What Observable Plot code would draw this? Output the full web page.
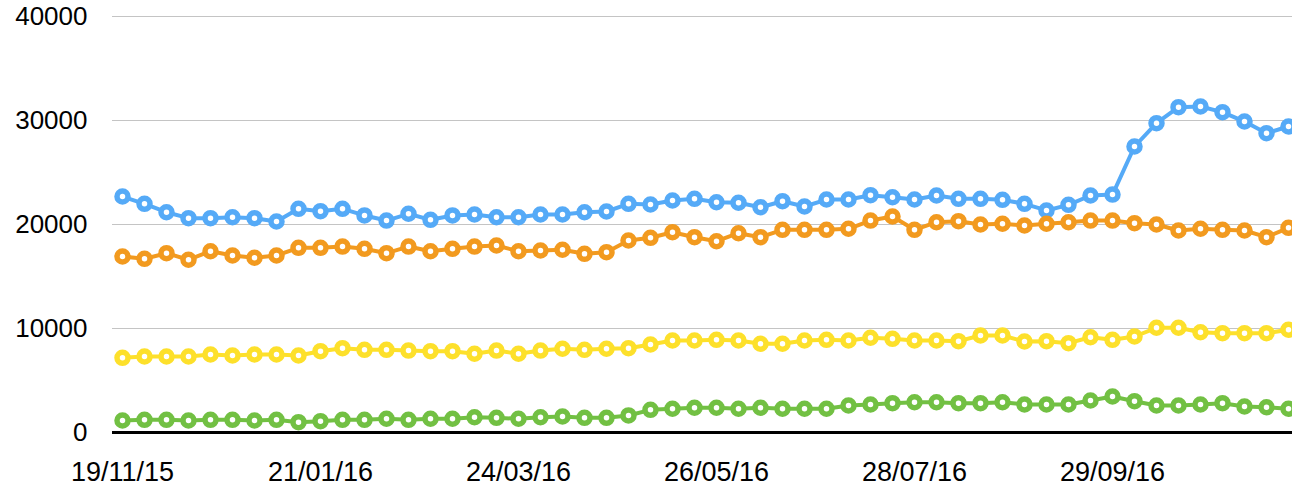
<!DOCTYPE html>
<html>
<head>
<meta charset="utf-8">
<script src="https://cdn.jsdelivr.net/npm/d3@7"></script>
<script src="https://cdn.jsdelivr.net/npm/@observablehq/plot@0.6"></script>
<style>
  html, body { margin: 0; padding: 0; background: #fff; }
</style>
</head>
<body>
<div id="chart"></div>
<script>
const startDate = "2015-11-19";
const tickLabels = ["19/11/15", "21/01/16", "24/03/16", "26/05/16", "28/07/16", "29/09/16"];
const yTicks = [0, 10000, 20000, 30000, 40000];

const blue = [22690, 21990, 21180, 20610, 20610, 20700, 20610, 20290, 21510, 21280, 21510, 20870, 20380, 21030, 20450, 20870, 20960, 20700, 20700, 20960, 20960, 21180, 21250, 21990, 21920, 22310, 22470, 22140, 22090, 21660, 22240, 21730, 22400, 22400, 22820, 22620, 22400, 22790, 22470, 22470, 22370, 21990, 21350, 21890, 22790, 22880, 27500, 29740, 31280, 31350, 30800, 29900, 28780, 29420];
const orange = [16920, 16700, 17240, 16610, 17430, 17020, 16800, 17020, 17760, 17760, 17880, 17660, 17240, 17880, 17430, 17660, 17880, 17980, 17430, 17500, 17570, 17180, 17340, 18460, 18720, 19260, 18780, 18390, 19160, 18780, 19490, 19490, 19490, 19590, 20380, 20770, 19490, 20220, 20320, 20000, 20070, 19900, 20070, 20220, 20380, 20380, 20130, 20000, 19420, 19590, 19490, 19420, 18780, 19680];
const yellow = [7180, 7310, 7310, 7310, 7500, 7400, 7500, 7500, 7400, 7820, 8110, 7950, 7950, 7880, 7820, 7820, 7570, 7880, 7570, 7880, 8050, 7950, 8050, 8110, 8460, 8850, 8850, 8910, 8850, 8530, 8530, 8850, 8910, 8850, 9110, 9010, 8850, 8850, 8780, 9330, 9330, 8750, 8780, 8590, 9160, 8910, 9230, 10070, 10070, 9640, 9550, 9550, 9550, 9880];
const green = [1150, 1220, 1220, 1150, 1220, 1220, 1150, 1220, 990, 1090, 1220, 1220, 1320, 1220, 1320, 1320, 1470, 1410, 1320, 1470, 1540, 1410, 1410, 1640, 2180, 2280, 2380, 2380, 2280, 2380, 2280, 2280, 2280, 2600, 2690, 2820, 2910, 2910, 2820, 2820, 2910, 2690, 2690, 2690, 3080, 3460, 3010, 2600, 2600, 2690, 2820, 2500, 2430, 2280];

const seriesNames = ["blue", "orange", "yellow", "green"];
const seriesValues = [blue, orange, yellow, green];
const seriesColors = ["#55aaf7", "#f29a1f", "#fde02b", "#72c043"];

const start = new Date(startDate + "T00:00:00Z");
const weeks = blue.map((_, i) => d3.utcDay.offset(start, 7 * i));
const tickDates = tickLabels.map(s => {
  const [d, m, y] = s.split("/").map(Number);
  return new Date(Date.UTC(2000 + y, m - 1, d));
});

const rows = [];
seriesNames.forEach((name, k) => {
  seriesValues[k].forEach((v, i) => rows.push({series: name, date: weeks[i], value: v}));
});

const marks = [
  Plot.ruleY(yTicks.filter(d => d > 0), {stroke: "#c4c4c4", strokeWidth: 1}),
  Plot.axisY({ticks: yTicks, tickFormat: d => String(d), tickSize: 0, tickPadding: 25, fontSize: 26, label: null}),
  Plot.axisX({ticks: tickDates, tickFormat: d3.utcFormat("%d/%m/%y"), tickSize: 0, tickPadding: 29, fontSize: 27, label: null}),
];
seriesNames.forEach((name, k) => {
  const data = rows.filter(r => r.series === name);
  marks.push(Plot.line(data, {x: "date", y: "value", stroke: seriesColors[k], strokeWidth: 4}));
  marks.push(Plot.dot(data, {x: "date", y: "value", r: 5.5, stroke: seriesColors[k], strokeWidth: 5.5, fill: "white"}));
});
marks.push(Plot.ruleY([0], {stroke: "#000", strokeWidth: 3}));

const chart = Plot.plot({
  width: 1292,
  height: 488,
  marginTop: 16,
  marginBottom: 56,
  marginLeft: 112,
  marginRight: 0,
  style: {fontFamily: "'Liberation Sans', Arial, sans-serif", fontSize: "26px", color: "#000", background: "#fff"},
  x: {type: "utc", domain: [weeks[0], weeks[weeks.length - 1]], insetLeft: 10, insetRight: 4},
  y: {domain: [0, 40000]},
  marks
});
document.getElementById("chart").appendChild(chart);
</script>
</body>
</html>
